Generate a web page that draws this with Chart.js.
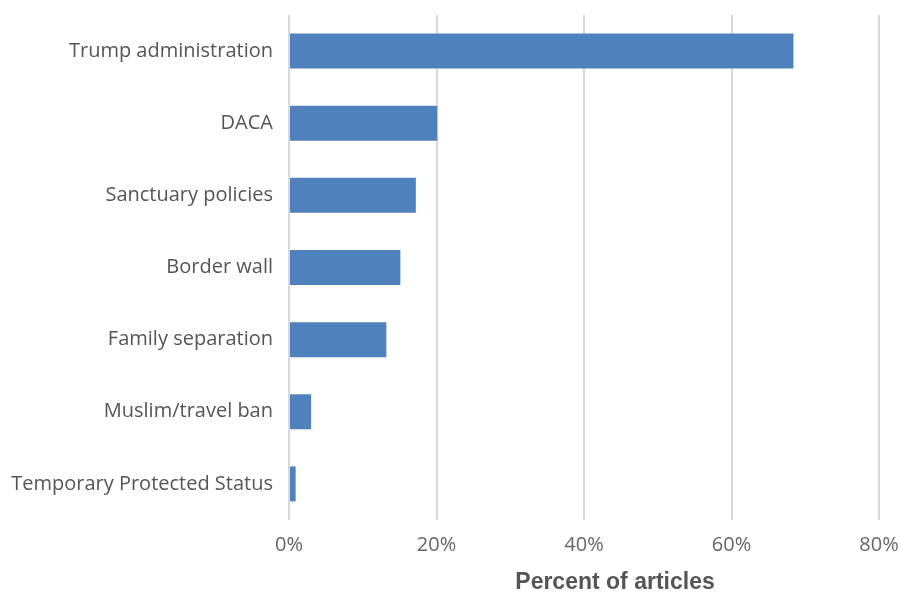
<!DOCTYPE html>
<html>
<head>
<meta charset="utf-8">
<script src="https://cdn.jsdelivr.net/npm/chart.js@4"></script>
<style>
  html, body { margin: 0; padding: 0; background: #fff; }
  #wrap { width: 900px; height: 592px; position: relative; }
</style>
</head>
<body>
<div id="wrap"><canvas id="chart"></canvas></div>
<script>
// categories and values
const topics = [
  "Trump administration",
  "DACA",
  "Sanctuary policies",
  "Border wall",
  "Family separation",
  "Muslim/travel ban",
  "Temporary Protected Status"
];
const percentArticles = [68.4, 20.1, 17.2, 15.1, 13.2, 3.0, 0.9];
const xTicks = [0, 20, 40, 60, 80];
const xTitle = "Percent of articles";

// x axis title drawn a bit right of center, like the original
const axisTitle = {
  id: "axisTitle",
  afterDraw(chart) {
    const x = chart.scales.x;
    const ctx = chart.ctx;
    ctx.save();
    ctx.font = "bold 23px 'Liberation Sans Narrow', 'Liberation Sans', sans-serif";
    ctx.fillStyle = "#555555";
    ctx.textAlign = "center";
    ctx.textBaseline = "middle";
    ctx.fillText(xTitle, (x.left + x.right) / 2 + 31, 583);
    ctx.restore();
  }
};

new Chart(document.getElementById("chart"), {
  type: "bar",
  data: {
    labels: topics,
    datasets: [{
      data: percentArticles,
      backgroundColor: "#4f81bd",
      borderWidth: 0,
      categoryPercentage: 1,
      barPercentage: 0.485
    }]
  },
  options: {
    indexAxis: "y",
    responsive: true,
    maintainAspectRatio: false,
    animation: false,
    layout: { padding: { top: 15, right: 21, bottom: 0, left: 0 } },
    plugins: {
      legend: { display: false },
      tooltip: { enabled: false }
    },
    scales: {
      x: {
        min: 0,
        max: 80,
        afterBuildTicks: s => { s.ticks = xTicks.map(v => ({ value: v })); },
        afterFit: s => { s.height = 72; s.paddingLeft = 0; s.paddingRight = 0; },
        ticks: {
          callback: v => v + "%",
          color: "#666666",
          font: { family: "'Open Sans'", size: 20 },
          padding: 13
        },
        grid: { color: "#d9d9d9", lineWidth: 2, drawTicks: false },
        border: { display: false }
      },
      y: {
        afterFit: s => { s.width = 289; s.paddingTop = 0; s.paddingBottom = 0; },
        ticks: {
          color: "#555555",
          font: { family: "'Open Sans'", size: 20 },
          padding: 16
        },
        grid: { display: false, drawTicks: false },
        border: { display: false }
      }
    }
  },
  plugins: [axisTitle]
});
</script>
</body>
</html>
